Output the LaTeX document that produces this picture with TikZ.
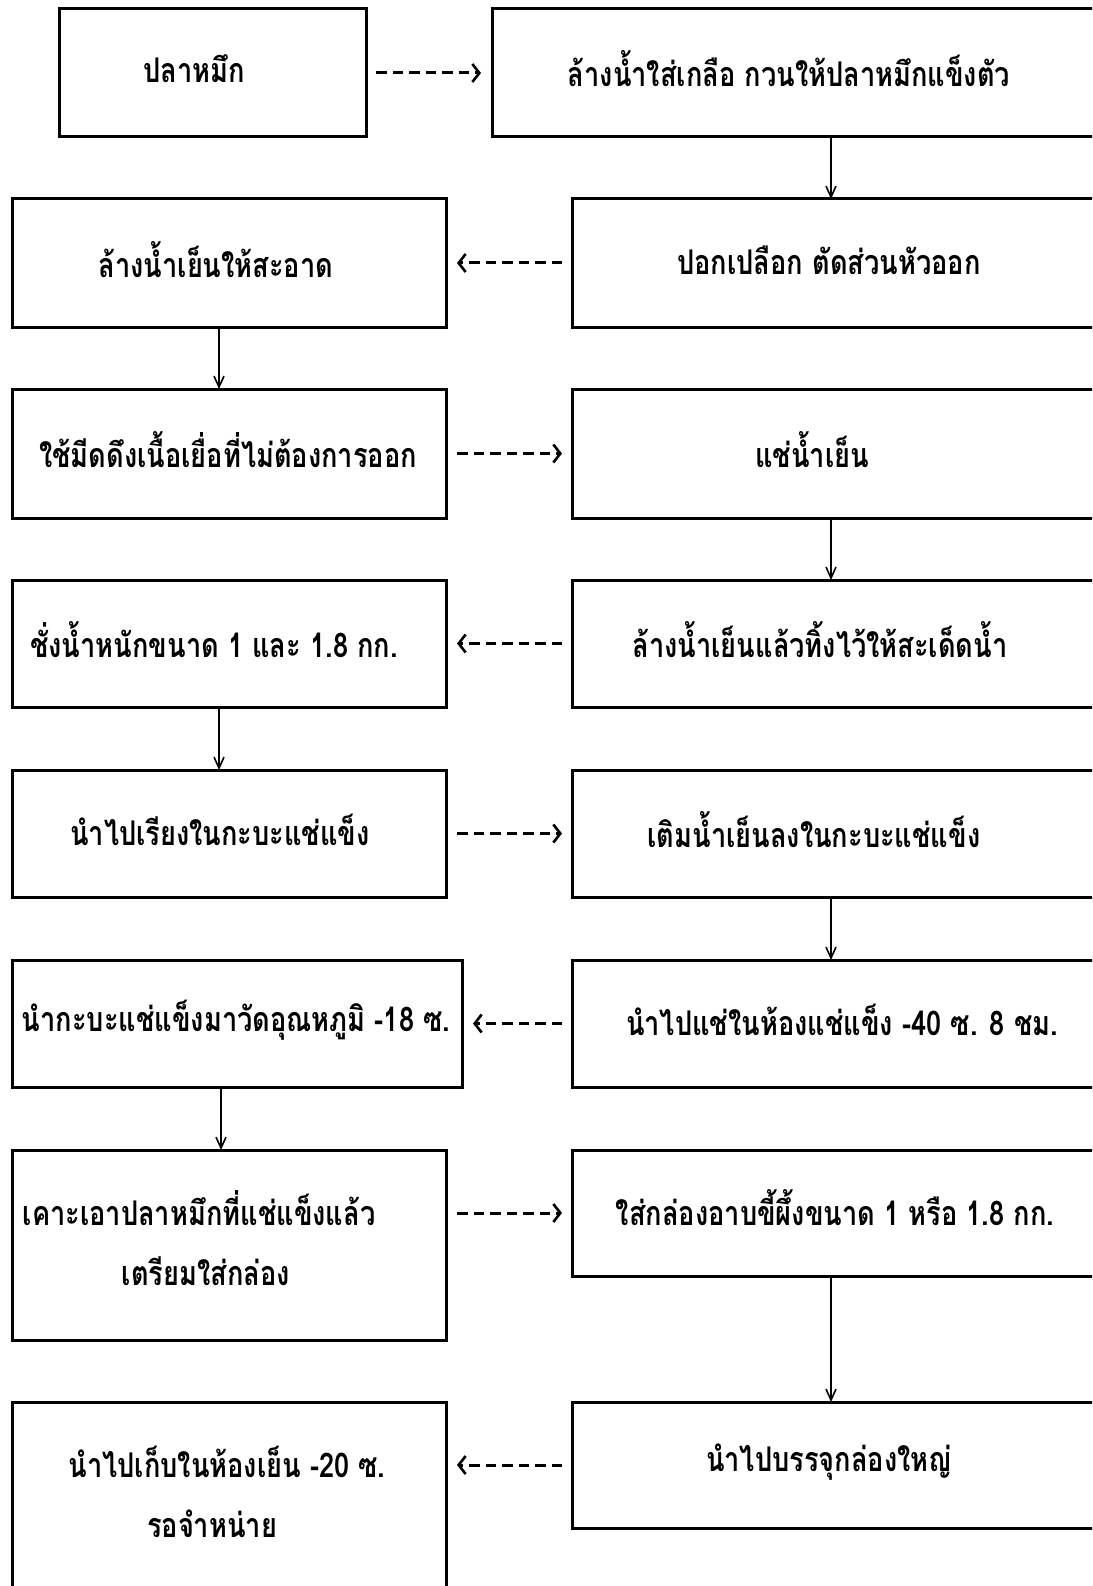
\documentclass[tikz,border=0pt]{standalone}
\usepackage{fontspec}
\newfontfamily\thaifont[Script=Thai,FakeStretch=0.8]{Loma}
\usetikzlibrary{arrows.meta}
\begin{document}
\begin{tikzpicture}[x=1pt,y=-1pt,
  box/.style={draw, line width=3pt, rectangle, inner sep=0pt, outer sep=0pt},
  txt/.style={font=\thaifont\bfseries\fontsize{34}{40}\selectfont, inner sep=0pt, anchor=center},
  flow/.style={line width=3pt, dash pattern=on 10.5pt off 6pt, -{Straight Barb[length=7pt,width=18pt,line width=2.6pt]}},
  down/.style={line width=1.6pt, -{Straight Barb[length=11pt,width=10pt]}}]
\useasboundingbox (0,0) rectangle (1092,1586);
\clip (0,0) rectangle (1092,1586);
% boxes
\node[box, minimum width=307pt, minimum height=128pt] (l1) at (212.5,73) {};
\node[box, minimum width=604pt, minimum height=128pt] (r1) at (794,73) {};
\node[box, minimum width=434pt, minimum height=128pt] (l2) at (229,263) {};
\node[box, minimum width=524pt, minimum height=128pt] (r2) at (834,263) {};
\node[box, minimum width=434pt, minimum height=129pt] (l3) at (229,453.5) {};
\node[box, minimum width=524pt, minimum height=129pt] (r3) at (834,453.5) {};
\node[box, minimum width=434pt, minimum height=127pt] (l4) at (229,643.5) {};
\node[box, minimum width=524pt, minimum height=127pt] (r4) at (834,643.5) {};
\node[box, minimum width=434pt, minimum height=127pt] (l5) at (229,833.5) {};
\node[box, minimum width=524pt, minimum height=127pt] (r5) at (834,833.5) {};
\node[box, minimum width=450pt, minimum height=127pt] (l6) at (237,1023.5) {};
\node[box, minimum width=524pt, minimum height=127pt] (r6) at (834,1023.5) {};
\node[box, minimum width=434pt, minimum height=190pt] (l7) at (229,1245) {};
\node[box, minimum width=524pt, minimum height=126pt] (r7) at (834,1213) {};
\node[box, minimum width=434pt, minimum height=198pt] (l8) at (229,1501) {};
\node[box, minimum width=524pt, minimum height=126pt] (r8) at (834,1465) {};
% texts
\node[txt] (t1) at (194,69) {ปลาหมึก};
\node[txt] (t2) at (789,69) {ล้างน้ำใส่เกลือ กวนให้ปลาหมึกแข็งตัว};
\node[txt] (t3) at (216,260) {ล้างน้ำเย็นให้สะอาด};
\node[txt] (t4) at (829,260) {ปอกเปลือก ตัดส่วนหัวออก};
\node[txt] (t5) at (228,450) {ใช้มีดดึงเนื้อเยื่อที่ไม่ต้องการออก};
\node[txt] (t6) at (812,450) {แช่น้ำเย็น};
\node[txt] (t7) at (214,640) {ชั่งน้ำหนักขนาด 1 และ 1.8 กก.};
\node[txt] (t8) at (820,640) {ล้างน้ำเย็นแล้วทิ้งไว้ให้สะเด็ดน้ำ};
\node[txt] (t9) at (220,830) {นำไปเรียงในกะบะแช่แข็ง};
\node[txt] (t10) at (814,830) {เติมน้ำเย็นลงในกะบะแช่แข็ง};
\node[txt] (t11) at (236,1020) {นำกะบะแช่แข็งมาวัดอุณหภูมิ -18 ซ.};
\node[txt] (t12) at (842,1020) {นำไปแช่ในห้องแช่แข็ง -40 ซ. 8 ชม.};
\node[txt] (t13) at (199,1208) {เคาะเอาปลาหมึกที่แช่แข็งแล้ว};
\node[txt] (t14) at (206,1271) {เตรียมใส่กล่อง};
\node[txt] (t15) at (835,1208) {ใส่กล่องอาบขี้ผึ้งขนาด 1 หรือ 1.8 กก.};
\node[txt] (t16) at (227,1462) {นำไปเก็บในห้องเย็น -20 ซ.};
\node[txt] (t17) at (212,1524) {รอจำหน่าย};
\node[txt] (t18) at (829,1462) {นำไปบรรจุกล่องใหญ่};
% column coordinates
\coordinate (cR) at (831,0);
\coordinate (cL) at (219,0);
\coordinate (cL2) at (221,0);
% vertical arrows
\draw[down] (r1.south -| cR) -- (r2.north -| cR);
\draw[down] (l2.south -| cL) -- (l3.north -| cL);
\draw[down] (r3.south -| cR) -- (r4.north -| cR);
\draw[down] (l4.south -| cL) -- (l5.north -| cL);
\draw[down] (r5.south -| cR) -- (r6.north -| cR);
\draw[down] (l6.south -| cL2) -- (l7.north -| cL2);
\draw[down] (r7.south -| cR) -- (r8.north -| cR);
% dashed horizontal arrows
\draw[flow, shorten <=10pt, shorten >=11pt] (l1.east) -- (r1.west);
\draw[flow, shorten <=10pt, shorten >=11pt] (r2.west) -- (l2.east);
\draw[flow, shorten <=11pt, shorten >=10pt] (l3.east) -- (r3.west);
\draw[flow, shorten <=10pt, shorten >=11pt] (r4.west) -- (l4.east);
\draw[flow, shorten <=11pt, shorten >=10pt] (l5.east) -- (r5.west);
\draw[flow, shorten <=10pt, shorten >=11pt] (r6.west) -- (l6.east);
\draw[flow, shorten <=11pt, shorten >=10pt] (l7.east |- r7.west) -- (r7.west);
\draw[flow, shorten <=10pt, shorten >=11pt] (r8.west) -- (l8.east |- r8.west);
\end{tikzpicture}
\end{document}
